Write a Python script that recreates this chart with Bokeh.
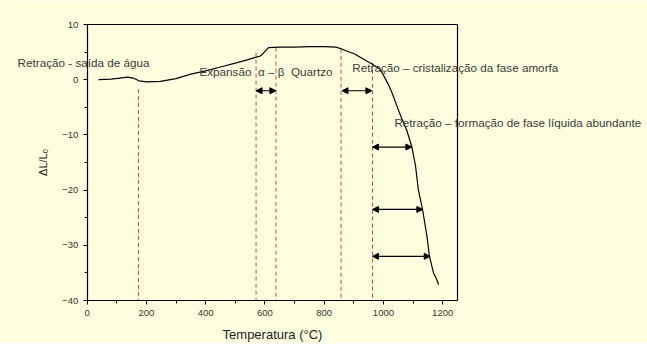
from bokeh.plotting import figure
from bokeh.models import (Range1d, SingleIntervalTicker, FixedTicker, LinearAxis, Label,
                          Arrow, NormalHead)
from bokeh.embed import file_html
from bokeh.resources import INLINE

# Dilatometric curve (temperature in °C, ΔL/Lo)
temp = [38, 80, 110, 136, 155, 175, 200, 247, 300, 350, 400, 450, 500, 540, 565, 585,
        598, 612, 650, 700, 750, 800, 840, 857, 880, 905, 933, 960, 989, 1016, 1030,
        1045, 1060, 1079, 1096, 1108, 1118, 1132, 1147, 1155, 1169, 1180, 1186]
dl = [0.0, 0.1, 0.3, 0.45, 0.3, -0.2, -0.4, -0.3, 0.2, 1.0, 1.6, 2.3, 3.0, 3.6, 4.0, 4.3,
      5.0, 5.8, 5.9, 5.9, 6.0, 6.0, 5.9, 5.6, 5.1, 4.6, 3.7, 2.9, 1.9, -0.8, -2.5,
      -4.7, -6.8, -9.2, -12.2, -15.5, -20.0, -23.5, -28.4, -31.9, -35.0, -36.2, -37.1]

# Vertical dashed reference lines
vline_x = [173, 570, 637, 857, 963]
vline_top = [-1.7, 4.9, 5.8, 5.6, 3.1]

# Double arrows (start T, end T, level)
arr_x0 = [570, 860, 963, 963, 963]
arr_x1 = [637, 961, 1096, 1133, 1158]
arr_y = [-2.0, -2.0, -12.2, -23.5, -32.0]

# Annotation texts and their anchor (data coords)
ann_text = ["Retração - saída de água",
            "Expansão\u00a0 α – β\u00a0 Quartzo",
            "Retração – cristalização da fase amorfa",
            "Retração – formação de fase líquida abundante"]
ann_x = [-235, 379, 895, 1037]
ann_y = [3.06, 1.44, 2.16, -7.75]

# Axis extents
XMIN, XMAX = 0, 1250
YMIN, YMAX = -40, 10

# Layout (pixels)
W, H = 647, 343
PX0, PX1 = 86.7, 457.0        # screen x of XMIN and XMAX
PY_TOP, PY_BOT = 24.0, 300.0  # screen y of YMAX and YMIN
sx = (PX1 - PX0) / (XMAX - XMIN)
sy = (PY_BOT - PY_TOP) / (YMAX - YMIN)

BG = "#FFFFE0"
FONT = "Liberation Sans"

p = figure(width=W, height=H, output_backend="svg", toolbar_location=None,
           x_range=Range1d(XMIN - PX0 / sx, XMAX + (W - PX1) / sx),
           y_range=Range1d(YMIN - (H - PY_BOT) / sy, YMAX + PY_TOP / sy),
           x_axis_type=None, y_axis_type=None,
           min_border=0, min_border_left=0, min_border_right=0,
           min_border_top=0, min_border_bottom=0,
           background_fill_color=BG, border_fill_color=BG)
p.grid.visible = False
p.outline_line_color = None


def style(ax):
    ax.axis_line_color = "black"
    ax.axis_line_width = 1.2
    ax.major_tick_line_color = "black"
    ax.minor_tick_line_color = "black"
    ax.major_tick_in = 0
    ax.major_tick_out = 4
    ax.minor_tick_in = 0
    ax.minor_tick_out = 3
    ax.major_label_text_font = FONT
    ax.major_label_text_font_size = "9.5px"
    ax.major_label_text_color = "#333333"
    ax.major_label_standoff = 5
    ax.axis_label_text_font = FONT
    ax.axis_label_text_font_style = "normal"
    ax.axis_label_text_color = "#222222"


xaxis = LinearAxis(fixed_location=YMIN, bounds=(XMIN, XMAX),
                   ticker=SingleIntervalTicker(interval=200, num_minor_ticks=2),
                   axis_label="Temperatura (°C)")
style(xaxis)
xaxis.axis_label_text_font_size = "13px"
xaxis.axis_label_standoff = 8
p.add_layout(xaxis, "below")

yaxis = LinearAxis(fixed_location=XMIN, bounds=(YMIN, YMAX),
                   ticker=SingleIntervalTicker(interval=10, num_minor_ticks=2),
                   axis_label="ΔL/Lₒ")
style(yaxis)
yaxis.axis_label_text_font_size = "11px"
yaxis.axis_label_standoff = 10
p.add_layout(yaxis, "left")

# top and right frame edges
top = LinearAxis(fixed_location=YMAX, bounds=(XMIN, XMAX), ticker=FixedTicker(ticks=[]),
                 major_label_text_font_size="0px", axis_line_color="black", axis_line_width=1.2)
p.add_layout(top, "above")
right = LinearAxis(fixed_location=XMAX, bounds=(YMIN, YMAX), ticker=FixedTicker(ticks=[]),
                   major_label_text_font_size="0px", axis_line_color="black", axis_line_width=1.2)
p.add_layout(right, "right")

# dashed red lines
p.segment(x0=vline_x, y0=vline_top, x1=vline_x, y1=[YMIN] * len(vline_x),
          line_color="#D9432B", line_dash="4 3", line_width=1)

# curve
p.line(temp, dl, line_color="black", line_width=1.2)

# arrows
for x0, x1, y in zip(arr_x0, arr_x1, arr_y):
    p.add_layout(Arrow(x_start=x0, y_start=y, x_end=x1, y_end=y,
                       line_color="black", line_width=1.2,
                       start=NormalHead(size=6, fill_color="black", line_color="black"),
                       end=NormalHead(size=6, fill_color="black", line_color="black")))

for t, x, y in zip(ann_text, ann_x, ann_y):
    p.add_layout(Label(x=x, y=y, text=t, text_font=FONT, text_font_size="11.7px",
                       text_color="#3a3a3a", text_baseline="middle", text_align="left"))

open("out.html", "w").write(file_html(p, INLINE))
